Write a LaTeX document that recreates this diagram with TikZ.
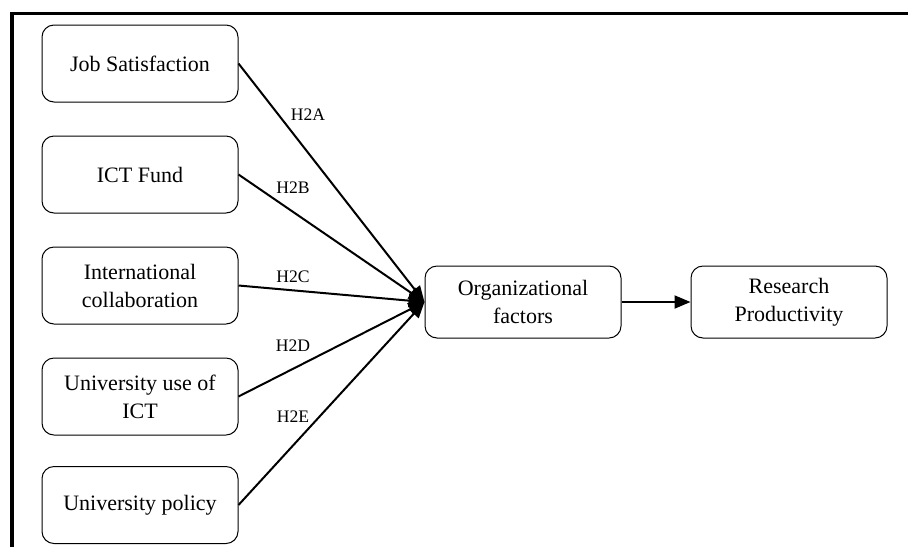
\documentclass[tikz,border=0pt]{standalone}
\usepackage{fontspec}
\setmainfont{Liberation Serif}
\usetikzlibrary{arrows.meta}

\begin{document}
\begin{tikzpicture}[x=0.5pt, y=-0.5pt,
  factor/.style={draw, rounded corners=6pt, line width=0.5pt, minimum width=98pt, minimum height=38.5pt, align=center, inner sep=2pt, font=\fontsize{11}{14}\selectfont},
  link/.style={line width=1pt, -{Triangle[length=8pt, width=6.5pt]}},
  hyp/.style={font=\fontsize{8.8}{10}\selectfont, inner sep=0pt}]
  \useasboundingbox (0,0) rectangle (908,547);
  \draw[line width=1.8pt] (12,547) |- (908,13.5);
  \node[factor] (job) at (140,63.5) {Job Satisfaction};
  \node[factor] (ict) at (140,174.5) {ICT Fund};
  \node[factor] (intl) at (140,285.5) {International\\collaboration};
  \node[factor] (useict) at (140,396.5) {University use of\\ICT};
  \node[factor] (policy) at (140,505) {University policy};
  \node[factor, minimum height=36pt] (org) at (523,302) {Organizational\\factors};
  \node[factor, minimum height=36pt] (rp) at (789,302) {Research\\Productivity};
  \draw[link] (job.east) -- (org.west);
  \draw[link] (ict.east) -- (org.west);
  \draw[link] (intl.east) -- (org.west);
  \draw[link] (useict.east) -- (org.west);
  \draw[link] (policy.east) -- (org.west);
  \draw[link] (org.east) -- (rp.west);
  \node[hyp] (h2a) at (308,115) {H2A};
  \node[hyp] (h2b) at (293,188) {H2B};
  \node[hyp] (h2c) at (293,277) {H2C};
  \node[hyp] (h2d) at (293,346) {H2D};
  \node[hyp] (h2e) at (293,417) {H2E};
\end{tikzpicture}
\end{document}
